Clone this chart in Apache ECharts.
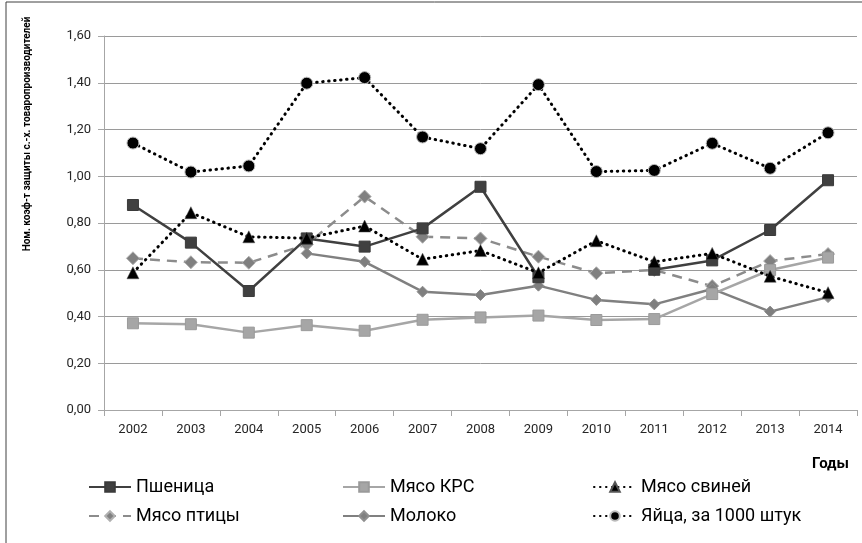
<!DOCTYPE html>
<html>
<head>
<meta charset="utf-8">
<script src="https://cdn.jsdelivr.net/npm/echarts@6/dist/echarts.min.js"></script>
<style>
html,body{margin:0;padding:0;background:#fff;}
#c{width:862px;height:543px;}
</style>
</head>
<body>
<div id="c"></div>
<script>
var years = ['2002','2003','2004','2005','2006','2007','2008','2009','2010','2011','2012','2013','2014'];
var wheat   = [0.877, 0.716, 0.509, 0.734, 0.699, 0.777, 0.955, 0.568, null, 0.600, 0.640, 0.770, 0.983];
var beef    = [0.371, 0.367, 0.331, 0.363, 0.339, 0.386, 0.396, 0.404, 0.385, 0.389, 0.496, 0.599, 0.652];
var pork    = [0.587, 0.844, 0.741, 0.735, 0.787, 0.645, 0.682, 0.587, 0.724, 0.634, 0.670, 0.572, 0.502];
var poultry = [0.649, 0.632, 0.630, 0.708, 0.913, 0.741, 0.734, 0.656, 0.585, 0.599, 0.530, 0.637, 0.667];
var milk    = [null, null, null, 0.670, 0.634, 0.506, 0.492, 0.532, 0.471, 0.452, 0.518, 0.421, 0.483];
var eggs    = [1.142, 1.018, 1.044, 1.398, 1.422, 1.168, 1.118, 1.392, 1.020, 1.025, 1.141, 1.034, 1.186];
var yTicks  = [0, 0.2, 0.4, 0.6, 0.8, 1.0, 1.2, 1.4, 1.6];

var FONT = 'Roboto';
var chart = echarts.init(document.getElementById('c'), null, {renderer:'canvas'});

function dotted(color){ return {color:color, width:3, type:[0.5,5.5], cap:'round'}; }

var legendText = {fontSize:18, color:'#000', lineHeight:20, fontFamily:FONT};

var option = {
  backgroundColor:'#fff',
  animation:false,
  textStyle:{fontFamily:FONT},
  grid:{left:104, right:5, top:36, bottom:133, containLabel:false},
  xAxis:{
    type:'category', data:years, boundaryGap:true,
    axisLine:{lineStyle:{color:'#a6a6a6', width:1}},
    axisTick:{show:true, inside:false, length:6, alignWithLabel:false, lineStyle:{color:'#a6a6a6'}},
    axisLabel:{fontSize:13, color:'#262626', margin:13, fontFamily:FONT},
    splitLine:{show:false}
  },
  yAxis:{
    type:'value', min:yTicks[0], max:yTicks[yTicks.length-1], interval:0.2,
    axisLine:{show:true, lineStyle:{color:'#a6a6a6', width:1}},
    axisTick:{show:true, length:6, lineStyle:{color:'#a6a6a6'}},
    axisLabel:{fontSize:13, color:'#262626', margin:13, fontFamily:FONT,
      formatter:function(v){ return v.toFixed(2).replace('.', ','); }},
    splitLine:{show:true, lineStyle:{color:'#9a9a9a', width:1}}
  },
  legend:[
    {orient:'vertical', left:83, top:472, itemWidth:42, itemHeight:12, itemGap:9,
     textStyle:legendText, data:['Пшеница','Мясо птицы']},
    {orient:'vertical', left:337, top:472, itemWidth:42, itemHeight:12, itemGap:9,
     textStyle:legendText, data:['Мясо КРС','Молоко']},
    {orient:'vertical', left:588, top:472, itemWidth:42, itemHeight:12, itemGap:9,
     textStyle:legendText, data:['Мясо свиней','Яйца, за 1000 штук']}
  ],
  graphic:[
    {type:'text', left:812, top:457,
     style:{text:'Годы', fontSize:15, fontWeight:'bold', fill:'#000', fontFamily:FONT}},
    {type:'text', x:27, y:134, rotation:Math.PI/2,
     style:{text:'Ном. коэф-т защиты с.-х. товаропроизводителей', fontSize:10, fontWeight:'bold',
            fill:'#000', fontFamily:FONT, align:'center', verticalAlign:'middle'}},
    {type:'polyline', shape:{points:[[6,545],[6,2],[870,2]]},
     style:{stroke:'#404040', lineWidth:1, fill:null}}
  ],
  series:[
    {name:'Пшеница', type:'line', data:wheat, z:5,
     symbol:'rect', symbolSize:11, connectNulls:false,
     lineStyle:{color:'#404040', width:2.5},
     itemStyle:{color:'#404040', borderColor:'#3a3a3a', borderWidth:1}},
    {name:'Мясо КРС', type:'line', data:beef, z:4,
     symbol:'rect', symbolSize:11,
     lineStyle:{color:'#a6a6a6', width:2.5},
     itemStyle:{color:'#a6a6a6', borderColor:'#9a9a9a', borderWidth:1}},
    {name:'Мясо свиней', type:'line', data:pork, z:6,
     symbol:'triangle', symbolSize:12,
     lineStyle:dotted('#000'),
     itemStyle:{color:'#000', borderColor:'#555', borderWidth:0.5}},
    {name:'Мясо птицы', type:'line', data:poultry, z:3,
     symbol:'diamond', symbolSize:13,
     lineStyle:{color:'#8c8c8c', width:2.5, type:[10,7]},
     itemStyle:{color:'#808080', borderColor:'#b0b0b0', borderWidth:1}},
    {name:'Молоко', type:'line', data:milk, z:3,
     symbol:'diamond', symbolSize:11,
     lineStyle:{color:'#808080', width:2.5},
     itemStyle:{color:'#7f7f7f', borderColor:'#8f8f8f', borderWidth:1}},
    {name:'Яйца, за 1000 штук', type:'line', data:eggs, z:6,
     symbol:'circle', symbolSize:12,
     lineStyle:dotted('#000'),
     itemStyle:{color:'#000', borderColor:'#bbb', borderWidth:1}}
  ]
};
chart.setOption(option);
</script>
</body>
</html>
